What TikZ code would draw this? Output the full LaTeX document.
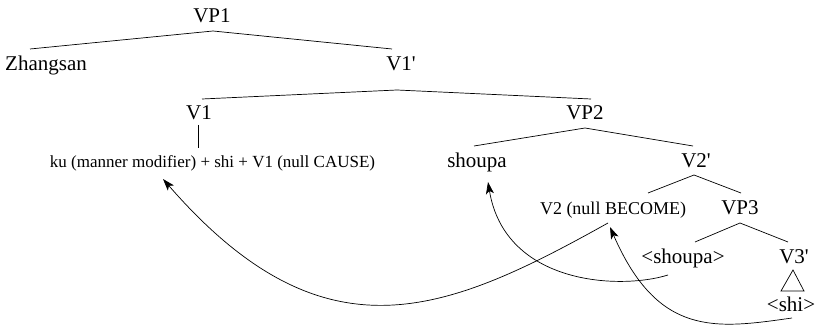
\documentclass[tikz,border=0pt]{standalone}
\usepackage{fontspec}
\setmainfont{Liberation Serif}
\usetikzlibrary{calc,arrows.meta}
\begin{document}
\begin{tikzpicture}[x=1pt,y=-1pt,
  lab/.style={anchor=base,inner sep=0pt,font=\fontsize{21}{25}\selectfont},
  slab/.style={anchor=base,inner sep=0pt,font=\fontsize{18}{22}\selectfont},
  kulab/.style={anchor=base,inner sep=0pt,font=\fontsize{17}{21}\selectfont},
  branch/.style={line width=0.7pt},
  move/.style={line width=0.7pt,-{Stealth[length=12pt,width=8pt,inset=3pt]}}]
\useasboundingbox (0,0) rectangle (817,328);
\node[lab] (vp1) at (212,23) {VP1};
\node[lab] (zh) at (46,71) {Zhangsan};
\node[lab] (v1p) at (401,71) {V1\textquotesingle};
\node[lab] (v1) at (199,120) {V1};
\node[lab] (vp2) at (585,120) {VP2};
\node[kulab] (ku) at (212.5,168) {ku (manner modifier) + shi + V1 (null CAUSE)};
\node[lab] (sh) at (477,168) {shoupa};
\node[lab] (v2p) at (696,168) {V2\textquotesingle};
\node[slab] (v2) at (613,215) {V2 (null BECOME)};
\node[lab] (vp3) at (740,215) {VP3};
\node[lab] (sh2) at (683,264) {<shoupa>};
\node[lab] (v3p) at (794,264) {V3\textquotesingle};
\node[lab] (shi) at (791,312) {<shi>};
% tree branches
\draw[branch] ($(zh.base)+(-16,-22)$) -- ($(vp1.base)+(1,8)$) -- ($(v1p.base)+(-9,-22)$);
\draw[branch] ($(v1.base)+(3,-21)$) -- ($(v1p.base)+(-4,19)$) -- ($(vp2.base)+(6,-21)$);
\draw[branch] ($(v1.base)+(-1,5)$) -- ($(ku.base)+(-14.5,-20)$);
\draw[branch] ($(sh.base)+(-3,-22)$) -- ($(vp2.base)+(0,8)$) -- ($(v2p.base)+(-3,-22)$);
\draw[branch] ($(v2.base)+(35,-22)$) -- ($(v2p.base)+(-2,7)$) -- ($(vp3.base)+(1,-22)$);
\draw[branch] ($(sh2.base)+(12,-22)$) -- ($(vp3.base)+(0,8)$) -- ($(v3p.base)+(-6,-22)$);
\draw[branch] ($(v3p.base)+(-1,6)$) -- ($(v3p.base)+(-13,27)$) -- ($(v3p.base)+(10,27)$) -- cycle;
% movement arrows
\draw[move] ($(v2.base)+(-5,8)$) .. controls (445,314) and (324,364) .. ($(ku.base)+(-49.5,11)$);
\draw[move] ($(sh2.base)+(-15,11)$) .. controls (620,290) and (505,285) .. ($(sh.base)+(11,14)$);
\draw[move] ($(shi.base)+(1,6)$) .. controls (715,329) and (658,337) .. ($(v2.base)+(-3,12)$);
\end{tikzpicture}
\end{document}
